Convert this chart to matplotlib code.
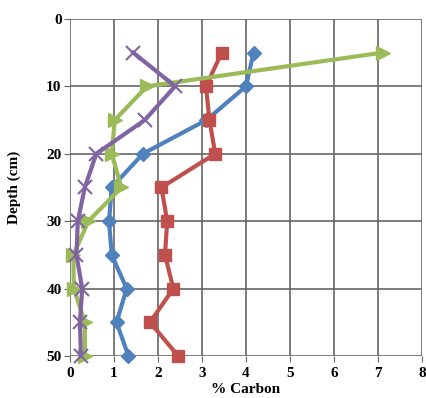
import matplotlib.pyplot as plt

# depth (cm) and % carbon for four profiles
depth = [5, 10, 15, 20, 25, 30, 35, 40, 45, 50]
blue_carbon = [4.17, 4.0, 3.1, 1.66, 0.95, 0.89, 0.95, 1.29, 1.06, 1.33]
red_carbon = [3.45, 3.09, 3.17, 3.3, 2.08, 2.21, 2.16, 2.35, 1.82, 2.46]
green_carbon = [7.1, 1.75, 1.02, 0.95, 1.17, 0.42, 0.08, 0.09, 0.34, 0.34]
purple_carbon = [1.44, 2.39, 1.7, 0.6, 0.34, 0.18, 0.15, 0.28, 0.23, 0.25]

plt.rcParams['font.family'] = ['Liberation Serif', 'DejaVu Serif']

fig = plt.figure(figsize=(4.26, 3.98), dpi=100)
ax = fig.add_axes([0.164, 0.1055, 0.827, 0.847])

ax.plot(blue_carbon, depth, color='#4F81BD', lw=3, marker='D', ms=7, zorder=3, clip_on=False)
ax.plot(red_carbon, depth, color='#C0504D', lw=3, marker='s', ms=9, zorder=3, clip_on=False)
ax.plot(green_carbon, depth, color='#9BBB59', lw=3, marker='>', ms=10, zorder=3, clip_on=False)
ax.plot(purple_carbon, depth, color='#8064A2', lw=3, marker='x', ms=10, mew=1.5, zorder=3, clip_on=False)

ax.set_xlim(0, 8)
ax.set_ylim(50, 0)
ax.set_xticks(range(0, 9))
ax.set_yticks(range(0, 51, 10))
ax.grid(True, color='#666666', lw=1.2)
ax.set_axisbelow(True)
for s in ax.spines.values():
    s.set_visible(False)
ax.tick_params(direction='out', length=4, color='#666666', labelsize=11, pad=2)
ax.tick_params(axis='x', pad=4)
for lab in ax.get_xticklabels() + ax.get_yticklabels():
    lab.set_fontweight('bold')

ax.set_xlabel('% Carbon', fontsize=11, fontweight='bold', labelpad=2)
ax.set_ylabel('Depth (cm)', fontsize=11, fontweight='bold', labelpad=18)

fig.savefig('out.png', dpi=100)
